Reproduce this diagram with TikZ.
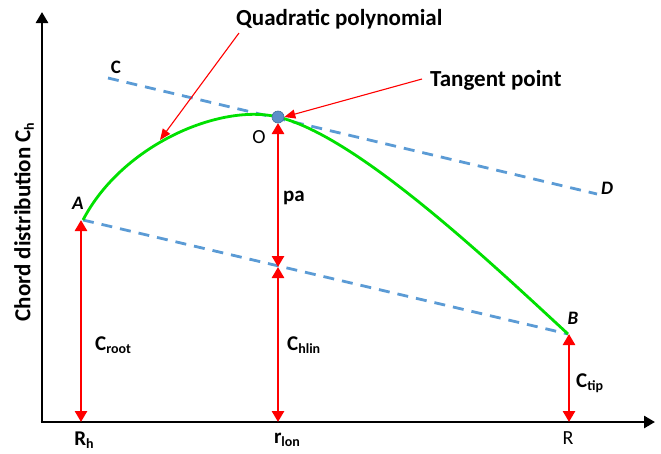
\documentclass[tikz,border=0pt]{standalone}
\usepackage{fontspec}
\setmainfont{Carlito}
\usetikzlibrary{arrows.meta}
\definecolor{dblue}{HTML}{5B9BD5}
\definecolor{cgreen}{HTML}{00E000}
\definecolor{dotfill}{HTML}{5B8FC9}
\definecolor{dotline}{HTML}{41719C}
\newcommand{\sbs}[1]{\raisebox{-0.3ex}{\fontsize{14}{16}\selectfont #1}}
\tikzset{
  axisline/.style={line width=2.6pt, -{Triangle[length=11pt,width=12pt]}},
  dimline/.style={red, line width=2.6pt, {Triangle[length=11pt,width=12pt]}-{Triangle[length=11pt,width=12pt]}},
  noteline/.style={red, line width=1.1pt, -{Triangle[length=11pt,width=9pt]}},
  bluedash/.style={dblue, line width=2.8pt, dash pattern=on 11pt off 8pt},
  greencurve/.style={cgreen, line width=2.8pt},
  lbl/.style={font=\fontsize{19}{21}\selectfont\bfseries, inner sep=0pt},
  ilbl/.style={font=\fontsize{19}{21}\selectfont\bfseries\itshape, inner sep=0pt},
  mid/.style={font=\fontsize{21}{24}\selectfont\bfseries, inner sep=0pt},
  big/.style={font=\fontsize{23}{26}\selectfont\bfseries, inner sep=0pt},
}
\begin{document}
\begin{tikzpicture}[x=1pt,y=-1pt]
\useasboundingbox (0,0) rectangle (661,453);
% key points
\coordinate (orig) at (42,422);
\coordinate (ytop) at (42,12);
\coordinate (xend) at (655,422);
\coordinate (A) at (83,220);
\coordinate (O) at (278,117);
\coordinate (B) at (568,334);
\coordinate (C) at (108,78);
\coordinate (D) at (597,194);
\coordinate (M) at (278,267);
\coordinate (Abase) at (81,422);
\coordinate (Mbase) at (278,422);
\coordinate (Bbase) at (569,422);
\coordinate (Aup) at (81,220);
\coordinate (Bup) at (569,334);
% axes
\draw[axisline] ([yshift=1.3pt]orig) -- (ytop);
\draw[axisline] ([xshift=-1.3pt]orig) -- (xend);
% dashed lines
\draw[bluedash] (C) -- (D);
\draw[bluedash] (A) -- (B);
% curve
\draw[greencurve] (A) .. controls (122,145) and (220,103) .. (O)
             .. controls (357,136) and (490,262) .. (B);
% dimension arrows
\draw[dimline] (Aup) -- (Abase);
\draw[dimline] ([yshift=-6pt]O) -- (M);
\draw[dimline] (M) -- (Mbase);
\draw[dimline] (Bup) -- (Bbase);
% tangent point dot
\node[circle, fill=dotfill, draw=dotline, line width=0.6pt, minimum size=12pt, inner sep=0pt] (dot) at (O) {};
% labels
\node[big, anchor=west] (qp) at (236,19) {Quadratic polynomial};
\node[big, anchor=west] (tp) at (430,80) {Tangent point};
\coordinate (qpfoot) at (239,33);
\coordinate (qptip) at (160,140);
\coordinate (tpfoot) at (422,79);
\draw[noteline] (qpfoot) -- (qptip);
\draw[noteline] (tpfoot) -- (dot.east);
\node[lbl] (lC) at (116,67) {C};
\node[ilbl] (lD) at (607,188) {D};
\node[ilbl] (lA) at (78,203) {A};
\node[ilbl] (lB) at (573,318) {B};
\node[font=\fontsize{20}{22}\selectfont, inner sep=0pt] (lO) at (259,137) {O};
\node[mid] (lpa) at (294,198) {pa};
\node[mid, anchor=west] (lcr) at (95,345) {C\sbs{root}};
\node[mid, anchor=west] (lch) at (287,345) {C\sbs{hlin}};
\node[mid, anchor=west] (lct) at (576,383) {C\sbs{tip}};
\node[mid] (lRh) at (84,440) {R\sbs{h}};
\node[mid] (lrl) at (287,440) {r\sbs{lon}};
\node[font=\fontsize{20}{22}\selectfont, inner sep=0pt] (lR) at (568,438) {R};
\node[big, rotate=90] (ylab) at (24,222) {Chord distribution C\sbs{h}};
\end{tikzpicture}
\end{document}
